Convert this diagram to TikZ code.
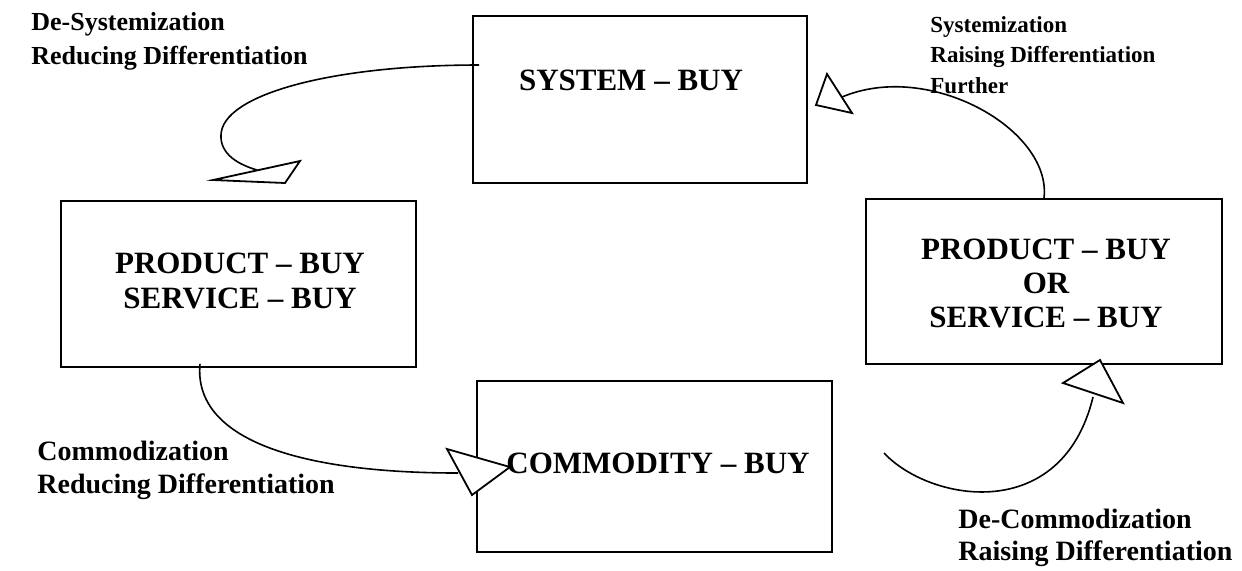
\documentclass[tikz,border=0pt]{standalone}
\usepackage{fontspec}
\setmainfont{Liberation Serif}
\begin{document}
\begin{tikzpicture}[x=0.5pt,y=-0.5pt,
  box/.style={draw, line width=0.9pt, inner sep=0pt},
  boxtext/.style={font=\fontsize{15.5}{17.5}\selectfont\bfseries, align=center, inner sep=0pt},
  note/.style={align=left, inner sep=0pt, anchor=base west},
  flow/.style={line width=0.8pt},
  head/.style={draw, fill=white, line width=0.9pt, line join=miter}]
\useasboundingbox (0,0) rectangle (1242,570);

% buying stages
\node[box, minimum width=167pt, minimum height=83.5pt] (sys) at (640,99.5) {};
\node[boxtext] (sys-t) at (631,80) {SYSTEM – BUY};

\node[box, minimum width=177.5pt, minimum height=83pt] (lb) at (238.5,284) {};
\node[boxtext] (lb-t) at (240,280.5) {PRODUCT – BUY\\SERVICE – BUY};

\node[box, minimum width=178pt, minimum height=82.5pt] (rb) at (1044,281.5) {};
\node[boxtext, font=\fontsize{15.5}{17}\selectfont\bfseries] (rb-t) at (1046,283) {PRODUCT – BUY\\OR\\SERVICE – BUY};

\node[box, minimum width=177.5pt, minimum height=85.5pt] (cb) at (654.5,466.5) {};
\node[boxtext] (cb-t) at (658,463) {COMMODITY – BUY};

% transition labels (anchored on the baseline of their last line)
\node[note, font=\fontsize{13}{17}\selectfont\bfseries] (desys) at (31,64)
  {De-Systemization\\Reducing Differentiation};
\node[note, font=\fontsize{11.5}{15.25}\selectfont\bfseries] (sysz) at (930,93)
  {Systemization\\Raising Differentiation\\Further};
\node[note, font=\fontsize{14}{16.5}\selectfont\bfseries] (comm) at (37,493)
  {Commodization\\Reducing Differentiation};
\node[note, font=\fontsize{14}{16}\selectfont\bfseries] (decomm) at (958,560)
  {De-Commodization\\Raising Differentiation};

% connector end points
\coordinate (e1) at (257,170);
\coordinate (e2) at (458,473);
\coordinate (s3) at (884,453);
\coordinate (e3) at (1093,397);
\coordinate (e4) at (842,97);

% transitions
\draw[flow] ([shift={(7,-34.5)}]sys.west) .. controls (330,65) and (222,95) .. (221,135)
  .. controls (220,155) and (240,165) .. (e1);
\draw[flow] ([shift={(-38.5,-4)}]lb.south) .. controls (193,440) and (300,473) .. (e2);
\draw[flow] (s3) .. controls (930,502) and (1062,525) .. (e3);
\draw[flow] (rb.north) .. controls (1052,130) and (930,60) .. (e4);

% open arrowheads
\draw[head] (213,180) -- (300,161) -- (285,183) -- cycle;
\draw[head] (447,449) -- (510,467) -- (472,495) -- cycle;
\draw[head] (1100,360) -- (1063,383) -- (1123,403) -- cycle;
\draw[head] (816,105) -- (827,74) -- (852,113) -- cycle;
\end{tikzpicture}
\end{document}
